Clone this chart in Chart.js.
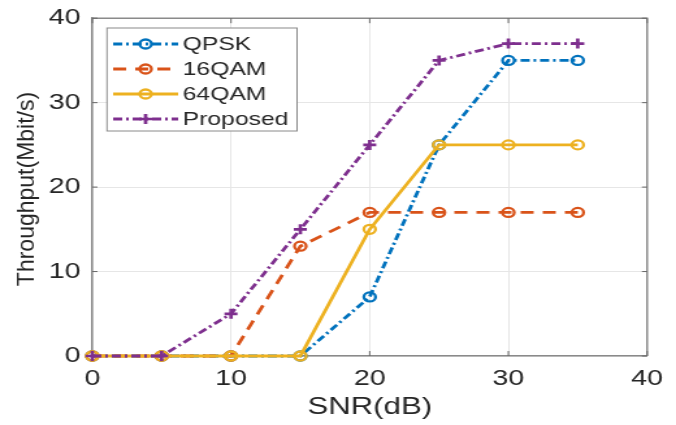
<!DOCTYPE html>
<html>
<head>
<meta charset="utf-8">
<script src="https://cdn.jsdelivr.net/npm/chart.js@4.4.1/dist/chart.umd.min.js"></script>
<style>
html,body{margin:0;padding:0;background:#fff;overflow:hidden;}
#wrap{position:absolute;left:0;top:0;width:520px;height:425px;transform:scaleX(1.3);transform-origin:0 0;}
</style>
</head>
<body>
<div id="wrap"><canvas id="c"></canvas></div>
<script>
// ---- data ----
const snr = [0, 5, 10, 15, 20, 25, 30, 35];
const qpsk = [0, 0, 0, 0, 7, 25, 35, 35];
const qam16 = [0, 0, 0, 13, 17, 17, 17, 17];
const qam64 = [0, 0, 0, 0, 15, 25, 25, 25];
const proposed = [0, 0, 5, 15, 25, 35, 37, 37];
const seriesNames = ['QPSK', '16QAM', '64QAM', 'Proposed'];
const xTicks = [0, 10, 20, 30, 40];
const yTicks = [0, 10, 20, 30, 40];
const xTitle = 'SNR(dB)';
const yTitle = 'Throughput(Mbit/s)';

// ---- styling ----
const SX = 1.3;
const FONT = "'Liberation Sans', Arial, Helvetica, sans-serif";
Chart.defaults.font.family = FONT;
Chart.defaults.color = '#262626';

function pts(ys) { return snr.map((x, i) => ({x: x, y: ys[i]})); }
function mk(label, ys, color, dash, style, order) {
  const cross = style === 'cross';
  return {
    label: label, data: pts(ys), borderColor: color, backgroundColor: color,
    borderDash: dash, borderWidth: 2.8, fill: false, tension: 0, clip: false,
    pointStyle: style, pointRadius: cross ? 5 : 4.5, pointBorderWidth: cross ? 2.7 : 2.3,
    pointBorderColor: color, pointBackgroundColor: 'rgba(0,0,0,0)', order: order
  };
}
const datasets = [
  mk(seriesNames[0], qpsk, '#0072BD', [7, 3, 2, 3], 'circle', 4),
  mk(seriesNames[1], qam16, '#D95319', [10, 7], 'circle', 3),
  mk(seriesNames[2], qam64, '#EDB120', [], 'circle', 2),
  mk(seriesNames[3], proposed, '#7E2F8E', [7, 3, 2, 3], 'cross', 1)
];

const framePlugin = {
  id: 'frame',
  beforeDatasetsDraw(chart) {
    const {ctx, chartArea: {left, right, top, bottom}, scales: {x, y}} = chart;
    ctx.save();
    ctx.strokeStyle = '#8a8a8a'; ctx.lineWidth = 1.5;
    ctx.beginPath(); ctx.moveTo(left, top); ctx.lineTo(right, top); ctx.lineTo(right, bottom); ctx.stroke();
    ctx.strokeStyle = '#666'; ctx.lineWidth = 1;
    ctx.beginPath();
    xTicks.forEach(v => { const p = x.getPixelForValue(v); ctx.moveTo(p, bottom); ctx.lineTo(p, bottom - 5); ctx.moveTo(p, top); ctx.lineTo(p, top + 5); });
    yTicks.forEach(v => { const p = y.getPixelForValue(v); ctx.moveTo(left, p); ctx.lineTo(left + 4, p); ctx.moveTo(right, p); ctx.lineTo(right - 4, p); });
    ctx.stroke();
    ctx.restore();
  }
};

const overlayPlugin = {
  id: 'overlay',
  afterDraw(chart) {
    const ctx = chart.ctx;
    // y title (undo horizontal stretch)
    ctx.save();
    ctx.translate(21, 189);
    ctx.scale(1 / SX, 1);
    ctx.rotate(-Math.PI / 2);
    ctx.font = '23px ' + FONT;
    ctx.fillStyle = '#262626';
    ctx.textAlign = 'center'; ctx.textBaseline = 'middle';
    ctx.fillText(yTitle, 0, 0);
    ctx.restore();

    // legend
    const bx = 82.3, by = 28, bw = 146.2, bh = 103;
    ctx.save();
    ctx.fillStyle = '#fff';
    ctx.fillRect(bx, by, bw, bh);
    ctx.strokeStyle = '#8a8a8a'; ctx.lineWidth = 1;
    ctx.strokeRect(bx, by, bw, bh);
    chart.data.datasets.forEach((ds, i) => {
      const yy = by + 16 + i * 25;
      const x0 = 87, x1 = 137, xm = 112;
      ctx.setLineDash(ds.borderDash || []);
      ctx.lineWidth = ds.borderWidth; ctx.strokeStyle = ds.borderColor;
      ctx.beginPath(); ctx.moveTo(x0, yy); ctx.lineTo(x1, yy); ctx.stroke();
      ctx.setLineDash([]);
      ctx.lineWidth = ds.pointBorderWidth;
      ctx.beginPath();
      if (ds.pointStyle === 'cross') {
        const r = ds.pointRadius;
        ctx.moveTo(xm - r, yy); ctx.lineTo(xm + r, yy);
        ctx.moveTo(xm, yy - r); ctx.lineTo(xm, yy + r);
      } else {
        ctx.arc(xm, yy, ds.pointRadius, 0, Math.PI * 2);
      }
      ctx.stroke();
      ctx.font = '19px ' + FONT;
      ctx.fillStyle = '#262626';
      ctx.textAlign = 'left'; ctx.textBaseline = 'middle';
      ctx.fillText(ds.label, 140.5, yy + 1);
    });
    ctx.restore();
  }
};

new Chart(document.getElementById('c'), {
  type: 'line',
  data: {datasets: datasets},
  plugins: [framePlugin, overlayPlugin],
  options: {
    responsive: true, maintainAspectRatio: false, animation: false,
    layout: {padding: {top: 16, right: 12.7, bottom: 0, left: 0}},
    plugins: {legend: {display: false}, tooltip: {enabled: false}},
    scales: {
      x: {
        type: 'linear', min: 0, max: 40,
        afterBuildTicks: s => { s.ticks = xTicks.map(v => ({value: v})); },
        ticks: {font: {size: 22}, padding: 10, maxRotation: 0, autoSkip: false, color: '#262626'},
        grid: {color: '#e6e6e6', lineWidth: 1, drawTicks: false},
        border: {display: true, color: '#8a8a8a', width: 1.5},
        title: {display: true, text: xTitle, font: {size: 24}, color: '#262626', padding: {top: 0, bottom: 3}},
        afterFit: s => { s.height = 69; }
      },
      y: {
        type: 'linear', min: 0, max: 40,
        afterBuildTicks: s => { s.ticks = yTicks.map(v => ({value: v})); },
        ticks: {font: {size: 22}, padding: 5, autoSkip: false, color: '#262626'},
        grid: {color: '#e6e6e6', lineWidth: 1, drawTicks: true, tickLength: 4, tickColor: 'rgba(0,0,0,0)'},
        border: {display: true, color: '#8a8a8a', width: 1.5},
        title: {display: false},
        afterFit: s => { s.width = 71; }
      }
    }
  }
});
</script>
</body>
</html>
